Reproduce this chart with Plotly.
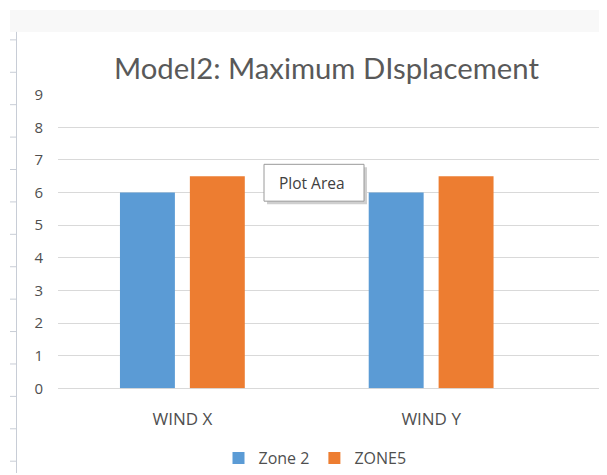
import plotly.graph_objects as go

categories = ["WIND X", "WIND Y"]
zone2 = [6, 6]
zone5 = [6.5, 6.5]
series_names = ["Zone 2", "ZONE5"]
y_ticks = list(range(0, 10))

# page body has an 8px margin; figure sized so its right/bottom reach the window edge
OFF = 8
W, H = 607 - OFF, 475 - OFF
FONT = "Lato"
FONT2 = "Open Sans"
GRAY = "#595959"
LABEL = "#4f4f4f"

def px(x):
    return (x - OFF) / W

def py(y):
    return 1 - (y - OFF) / H

fig = go.Figure()
fig.add_trace(go.Bar(name=series_names[0], x=categories, y=zone2, marker_color="#5B9BD5",
                     marker_line_width=0))
fig.add_trace(go.Bar(name=series_names[1], x=categories, y=zone5, marker_color="#ED7D31",
                     marker_line_width=0))

shapes = []
# top gray band
shapes.append(dict(type="rect", xref="paper", yref="paper", x0=px(10), x1=px(607), y0=py(32), y1=py(10),
                   fillcolor="#f8f8f8", line_width=0, layer="below"))
# ruler line
shapes.append(dict(type="line", xref="paper", yref="paper", x0=px(16.5), x1=px(16.5), y0=py(475), y1=py(32),
                   line=dict(color="#c8cdd6", width=1), layer="below"))
for i in range(14):
    yy = 40 + i * 32.55
    shapes.append(dict(type="line", xref="paper", yref="paper", x0=px(10), x1=px(16.5), y0=py(yy), y1=py(yy),
                       line=dict(color="#c8cdd6", width=1), layer="below"))
# tooltip shadow and box
shapes.append(dict(type="rect", xref="paper", yref="paper", x0=px(267), x1=px(367), y0=py(205), y1=py(168),
                   fillcolor="#cfcfcf", line_width=0))
shapes.append(dict(type="rect", xref="paper", yref="paper", x0=px(264), x1=px(364), y0=py(202), y1=py(165),
                   fillcolor="white", line=dict(color="#9a9a9a", width=1)))

fig.update_layout(
    width=W, height=H,
    margin=dict(l=0, r=0, t=0, b=0),
    paper_bgcolor="white", plot_bgcolor="white",
    font=dict(family=FONT2, color=LABEL, size=15),
    barmode="group", bargap=0.438, bargroupgap=0.214,
    title=dict(text="Model2: Maximum DIsplacement", x=px(326.5), xanchor="center",
               y=py(69), yanchor="middle", font=dict(family=FONT, size=29.3, color=GRAY)),
    xaxis=dict(domain=[px(58), 1], range=[-0.5, 1.707], showgrid=False, zeroline=False,
               showline=False, ticks="outside", ticklen=15, tickcolor="rgba(0,0,0,0)",
               tickfont=dict(family=FONT2, size=17, color=LABEL), automargin=False, fixedrange=True),
    yaxis=dict(domain=[py(390), py(95)], range=[0, 9], tickvals=y_ticks, showgrid=True,
               gridcolor="#d9d9d9", gridwidth=1, zeroline=True, zerolinecolor="#d9d9d9",
               zerolinewidth=1, showline=False, ticks="outside", ticklen=11,
               tickcolor="rgba(0,0,0,0)", tickfont=dict(family=FONT2, size=15, color=LABEL),
               automargin=False, fixedrange=True),
    legend=dict(orientation="h", x=px(315), xanchor="center", y=py(460), yanchor="middle",
                font=dict(family=FONT2, size=16, color=LABEL), itemwidth=30,
                traceorder="normal", bgcolor="rgba(0,0,0,0)"),
    shapes=shapes,
    annotations=[dict(text="Plot Area", xref="paper", yref="paper", x=px(312), y=py(184),
                      showarrow=False, font=dict(family=FONT2, size=15.5, color="#404040"))],
)

fig.write_html("out.html")
